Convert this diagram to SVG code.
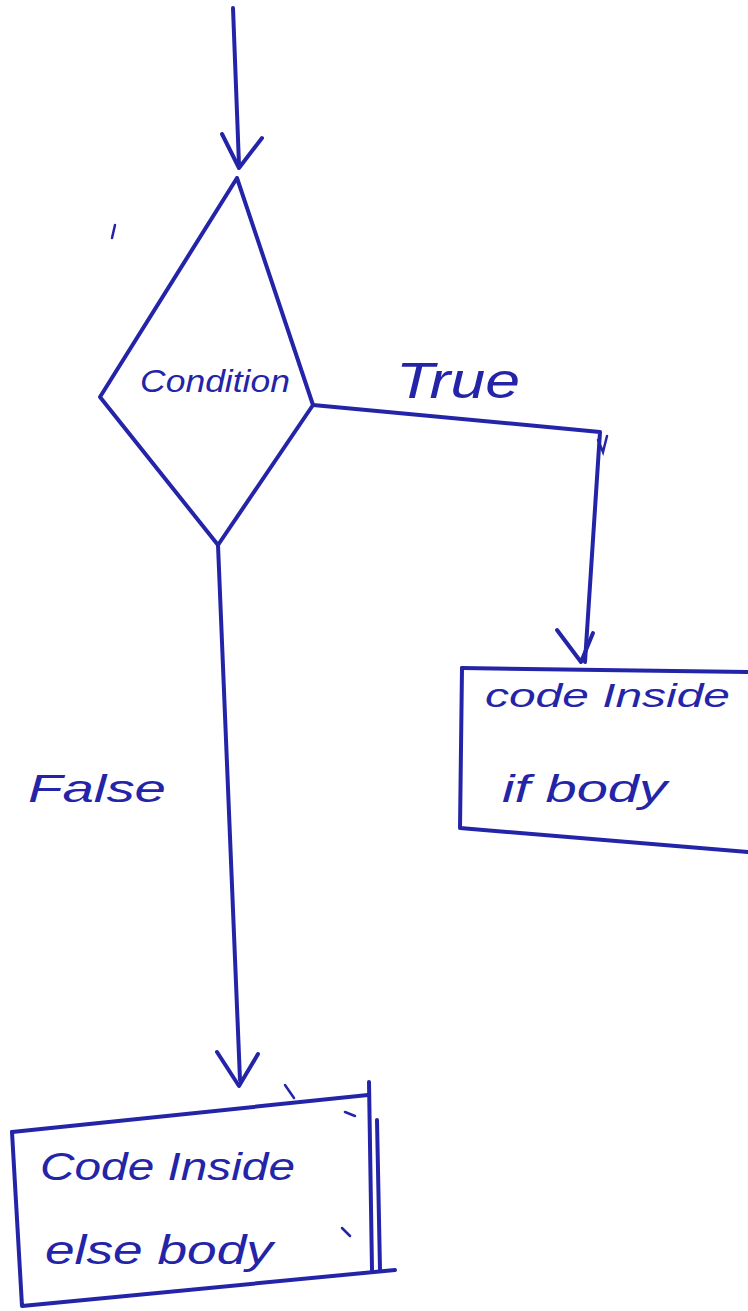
<svg xmlns="http://www.w3.org/2000/svg" width="748" height="1311" viewBox="0 0 748 1311">
<style>
.ink{fill:none;stroke:#2424a8;stroke-width:4;stroke-linecap:round;stroke-linejoin:round}
.thin{fill:none;stroke:#2424a8;stroke-width:2.5;stroke-linecap:round}
.lbl{font-family:"Liberation Sans",Arial,sans-serif;font-style:italic;fill:#2424a8}
</style>
<rect width="748" height="1311" fill="#ffffff"/>
<g id="connectors">
<path class="ink" d="M233,8 L239,165"/>
<path class="ink" d="M222,134 L239,168 L262,138"/>
<path class="ink" d="M313,405 L600,432 L585,662"/>
<path class="thin" d="M598,440 L603,452 L607,436"/>
<path class="ink" d="M557,630 L581,662 L593,633"/>
<path class="ink" d="M218,545 L240,1080"/>
<path class="ink" d="M217,1052 L239,1086 L258,1054"/>
</g>
<g id="decision">
<path class="ink" d="M237,178 L100,397 L218,545 L313,405 Z"/>
<text class="lbl" x="140" y="392" font-size="32" textLength="150" lengthAdjust="spacingAndGlyphs">Condition</text>
</g>
<g id="labelTrue">
<text class="lbl" x="396" y="398" font-size="50" textLength="124" lengthAdjust="spacingAndGlyphs">True</text>
</g>
<g id="labelFalse">
<text class="lbl" x="28" y="802" font-size="38" textLength="138" lengthAdjust="spacingAndGlyphs">False</text>
</g>
<g id="ifBody">
<path class="ink" d="M462,668 L748,672"/>
<path class="ink" d="M462,668 L460,828 L748,852"/>
<text class="lbl" x="485" y="707" font-size="34" textLength="245" lengthAdjust="spacingAndGlyphs">code Inside</text>
<text class="lbl" x="502" y="802" font-size="38" textLength="165" lengthAdjust="spacingAndGlyphs">if body</text>
</g>
<g id="elseBody">
<path class="ink" d="M12,1132 L368,1095"/>
<path class="ink" d="M12,1132 L22,1306 L395,1270"/>
<path class="ink" d="M369,1082 L372,1270"/>
<path class="ink" d="M377,1120 L380,1270"/>
<path class="thin" d="M285,1085 L294,1098"/>
<path class="thin" d="M345,1112 L355,1116"/>
<path class="thin" d="M342,1228 L350,1236"/>
<text class="lbl" x="40" y="1180" font-size="38" textLength="255" lengthAdjust="spacingAndGlyphs">Code Inside</text>
<text class="lbl" x="45" y="1264" font-size="40" textLength="228" lengthAdjust="spacingAndGlyphs">else body</text>
</g>
<path class="thin" d="M115,225 L112,238"/>
</svg>
